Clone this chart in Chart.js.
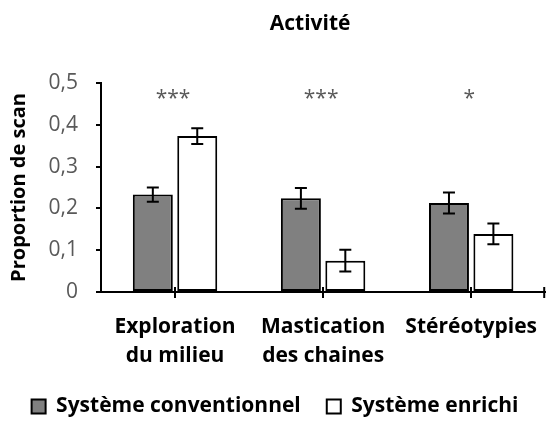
<!DOCTYPE html>
<html>
<head>
<meta charset="utf-8">
<script src="https://cdn.jsdelivr.net/npm/chart.js@4"></script>
<style>
  body { margin:0; background:#fff; }
  #wrap { width:550px; height:422px; }
</style>
</head>
<body>
<div id="wrap"><canvas id="chart" width="550" height="422"></canvas></div>
<script>
// ── Data ─────────────────────────────────────────────
const categories   = [['Exploration', 'du milieu'], ['Mastication', 'des chaines'], ['Stéréotypies']];
const conventional = [0.233, 0.224, 0.213];
const enriched     = [0.373, 0.075, 0.139];
const errConv      = [0.017, 0.025, 0.025];
const errEnr       = [0.019, 0.026, 0.025];
const signif       = ['***', '***', '*'];
const yTicks       = [0, 0.1, 0.2, 0.3, 0.4, 0.5];

const FONT = '"Open Sans", "Noto Sans", sans-serif';

// error bars, stars, title, crossing x ticks
const extrasPlugin = {
  id: 'extras',
  afterDatasetsDraw(chart) {
    const ctx = chart.ctx;
    const y = chart.scales.y;
    const errs = [errConv, errEnr];
    chart.data.datasets.forEach((ds, di) => {
      chart.getDatasetMeta(di).data.forEach((bar, i) => {
        const v = ds.data[i], e = errs[di][i];
        const top = y.getPixelForValue(v + e), bot = y.getPixelForValue(v - e);
        ctx.save();
        ctx.strokeStyle = '#000';
        ctx.lineWidth = 2;
        ctx.beginPath();
        ctx.moveTo(bar.x, top); ctx.lineTo(bar.x, bot);
        ctx.moveTo(bar.x - 6, top); ctx.lineTo(bar.x + 6, top);
        ctx.moveTo(bar.x - 6, bot); ctx.lineTo(bar.x + 6, bot);
        ctx.stroke();
        ctx.restore();
      });
    });
  },
  afterDraw(chart) {
    const ctx = chart.ctx;
    const { x, y } = chart.scales;
    const area = chart.chartArea;
    ctx.save();
    // significance stars
    ctx.font = '21px ' + FONT;
    ctx.fillStyle = '#595959';
    ctx.textAlign = 'center';
    ctx.textBaseline = 'alphabetic';
    signif.forEach((s, i) => {
      ctx.fillText(s, x.getPixelForValue(i) - 2, y.getPixelForValue(0.5) + 22);
    });
    // title
    ctx.font = 'bold 21px ' + FONT;
    ctx.fillStyle = '#000';
    ctx.textBaseline = 'middle';
    ctx.fillText('Activité', area.left + (area.right - area.left) / 2 - 13, 24);
    // x ticks crossing the axis
    ctx.strokeStyle = '#000';
    ctx.lineWidth = 2;
    ctx.beginPath();
    categories.forEach((c, i) => {
      const px = Math.round(x.getPixelForValue(i));
      ctx.moveTo(px, area.bottom - 5); ctx.lineTo(px, area.bottom + 6);
    });
    ctx.moveTo(area.right - 1, area.bottom - 5); ctx.lineTo(area.right - 1, area.bottom + 6);
    ctx.stroke();
    ctx.restore();
  }
};

new Chart(document.getElementById('chart'), {
  type: 'bar',
  data: {
    labels: categories,
    datasets: [
      {
        label: 'Système conventionnel',
        data: conventional,
        backgroundColor: '#808080',
        borderColor: '#000',
        borderWidth: 2,
        borderSkipped: false,
        categoryPercentage: 0.6,
        barPercentage: 0.9,
      },
      {
        label: 'Système enrichi',
        data: enriched,
        backgroundColor: '#fff',
        borderColor: '#000',
        borderWidth: 2,
        borderSkipped: false,
        categoryPercentage: 0.6,
        barPercentage: 0.9,
      }
    ]
  },
  options: {
    responsive: false,
    animation: false,
    layout: { padding: { top: 83, right: 0, bottom: 4, left: 0 } },
    plugins: {
      title: { display: false },
      tooltip: { enabled: false },
      legend: {
        position: 'bottom',
        maxHeight: 48,
        labels: {
          boxWidth: 14,
          boxHeight: 14,
          padding: 26,
          color: '#000',
          font: { family: FONT, size: 21, weight: 'bold' }
        }
      }
    },
    scales: {
      x: {
        offset: true,
        afterFit: s => { s.height = 78; },
        border: { display: true, color: '#000', width: 2 },
        grid: { display: false },
        ticks: {
          color: '#000',
          maxRotation: 0,
          autoSkip: false,
          padding: 13,
          font: { family: FONT, size: 21, weight: 'bold', lineHeight: 1.35 }
        }
      },
      y: {
        min: 0,
        max: 0.5,
        afterFit: s => { s.width = 101; },
        afterBuildTicks: s => { s.ticks = yTicks.map(v => ({ value: v })); },
        border: { display: true, color: '#000', width: 2 },
        grid: { drawOnChartArea: false, drawTicks: true, tickLength: 5, color: '#000', lineWidth: 2 },
        ticks: {
          color: '#595959',
          padding: 18,
          font: { family: FONT, size: 21 },
          callback: v => v === 0 ? '0' : v.toFixed(1).replace('.', ',')
        },
        title: {
          display: true,
          text: 'Proportion de scan',
          color: '#000',
          padding: { top: 7, bottom: 0 },
          font: { family: FONT, size: 20, weight: 'bold' }
        }
      }
    }
  },
  plugins: [extrasPlugin]
});
</script>
</body>
</html>
